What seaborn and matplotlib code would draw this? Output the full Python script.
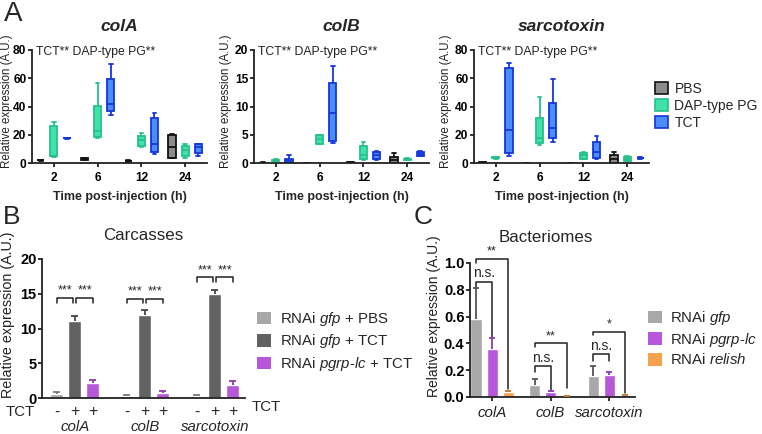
import numpy as np
import pandas as pd
import matplotlib
matplotlib.use("Agg")
import matplotlib.pyplot as plt
from matplotlib.patches import Patch
import seaborn as sns

sns.set_theme(style="ticks")
plt.rcParams['font.family'] = ['Liberation Sans', 'DejaVu Sans']
plt.rcParams['mathtext.fontset'] = 'custom'
plt.rcParams['mathtext.rm'] = 'Liberation Sans'
plt.rcParams['mathtext.it'] = 'Liberation Sans:italic'
plt.rcParams['mathtext.bf'] = 'Liberation Sans:bold'

# ---------------- Panel A data (five-number summaries: min, q1, median, q3, max) -------------
times = ["2", "6", "12", "24"]
treatments = ["PBS", "DAP-type PG", "TCT"]
genes_A = ["colA", "colB", "sarcotoxin"]
ymax_A = [80, 20, 80]
ystep_A = [20, 5, 20]

colA_PBS = [[1.5, 1.8, 2.0, 2.2, 2.4], [2.0, 2.4, 2.8, 3.2, 3.6], [0.8, 1.1, 1.4, 1.7, 2.0], [3.2, 3.5, 11.5, 20.0, 20.5]]
colA_DAP = [[4.0, 4.7, 5.2, 26.4, 28.7], [17.6, 18.1, 23.0, 40.5, 56.5], [11.1, 12.2, 16.0, 18.8, 21.2], [3.4, 5.3, 9.2, 12.0, 13.8]]
colA_TCT = [[17.2, 17.4, 17.6, 17.8, 18.0], [34.1, 36.5, 41.6, 59.3, 69.9], [6.6, 7.8, 13.6, 32.2, 35.1], [5.1, 6.9, 11.0, 13.1, 13.8]]

colB_PBS = [[0.0, 0.02, 0.05, 0.08, 0.1], [0.0, 0.02, 0.04, 0.06, 0.08], [0.0, 0.03, 0.06, 0.09, 0.12], [0.0, 0.06, 0.5, 1.05, 1.75]]
colB_DAP = [[0.3, 0.4, 0.5, 0.6, 0.7], [3.3, 3.4, 4.3, 4.9, 5.0], [0.5, 0.65, 1.5, 3.0, 3.7], [0.5, 0.6, 0.65, 0.7, 0.8]]
colB_TCT = [[0.0, 0.05, 0.3, 0.65, 1.35], [3.5, 3.9, 8.9, 14.2, 17.1], [0.5, 0.65, 1.35, 1.9, 2.1], [1.2, 1.3, 1.6, 2.0, 2.2]]

sarco_PBS = [[0.1, 0.2, 0.3, 0.4, 0.5], [0.05, 0.1, 0.2, 0.3, 0.35], [0.05, 0.1, 0.2, 0.3, 0.35], [0.0, 0.1, 3.0, 5.7, 7.6]]
sarco_DAP = [[3.0, 3.3, 3.7, 4.0, 4.2], [12.9, 14.5, 17.6, 31.9, 46.9], [2.6, 3.1, 5.5, 7.4, 7.9], [1.2, 1.7, 3.0, 4.3, 5.0]]
sarco_TCT = [[4.8, 6.9, 23.1, 67.0, 71.1], [15.2, 17.6, 24.5, 42.7, 59.6], [2.6, 3.6, 7.9, 15.0, 18.8], [3.0, 3.2, 3.5, 3.8, 4.0]]

summaries_A = {
    "colA": [colA_PBS, colA_DAP, colA_TCT],
    "colB": [colB_PBS, colB_DAP, colB_TCT],
    "sarcotoxin": [sarco_PBS, sarco_DAP, sarco_TCT],
}

# ---------------- Panel B data ----------------
genes = ["colA", "colB", "sarcotoxin"]
carc_groups = ["RNAi gfp + PBS", "RNAi gfp + TCT", "RNAi pgrp-lc + TCT"]
carc_gfp_pbs = [0.55, 0.3, 0.3]
carc_gfp_pbs_err = [0.25, 0.15, 0.15]
carc_gfp_tct = [11.1, 12.0, 14.9]
carc_gfp_tct_err = [0.7, 0.6, 0.7]
carc_pgrp_tct = [2.1, 0.65, 1.9]
carc_pgrp_tct_err = [0.45, 0.3, 0.5]
tct_signs = ["-", "+", "+"]

# ---------------- Panel C data ----------------
bact_groups = ["RNAi gfp", "RNAi pgrp-lc", "RNAi relish"]
bact_gfp = [0.585, 0.087, 0.155]
bact_gfp_err = [0.225, 0.05, 0.08]
bact_pgrp = [0.36, 0.04, 0.167]
bact_pgrp_err = [0.08, 0.007, 0.023]
bact_relish = [0.037, 0.003, 0.012]
bact_relish_err = [0.01, 0.002, 0.004]

# ---------------- Styles ----------------
fill_A = {"PBS": "#8C8C8C", "DAP-type PG": "#3FE3A9", "TCT": "#4A8DF6"}
edge_A = {"PBS": "#111111", "DAP-type PG": "#27C08A", "TCT": "#1436DC"}
carc_colors = {"RNAi gfp + PBS": "#A8A8A8", "RNAi gfp + TCT": "#626262", "RNAi pgrp-lc + TCT": "#B757D9"}
carc_err_colors = ["#7A7A7A", "#444444", "#8E3AAE"]
bact_colors = {"RNAi gfp": "#A8A8A8", "RNAi pgrp-lc": "#B757D9", "RNAi relish": "#F6A24C"}
bact_err_colors = ["#555555", "#8E3AAE", "#C0762C"]
spine_col = "#222222"

W, H = 762, 434
fig = plt.figure(figsize=(W / 100, H / 100), dpi=100)


def fax(left, right, top, bottom):
    return fig.add_axes([left / W, 1 - bottom / H, (right - left) / W, (bottom - top) / H])


def style_axes(ax, lw=1.3):
    for s in ["top", "right"]:
        ax.spines[s].set_visible(False)
    for s in ["left", "bottom"]:
        ax.spines[s].set_color(spine_col)
        ax.spines[s].set_linewidth(lw)
    ax.tick_params(colors=spine_col, width=lw, length=3)
    ax.tick_params(axis="y", pad=1)


# ---------------- Panel A ----------------
rows = []
for g in genes_A:
    for ti, t in enumerate(treatments):
        for hi, h in enumerate(times):
            for v in summaries_A[g][ti][hi]:
                rows.append({"gene": g, "treat": t, "time": h, "value": v})
dfA = pd.DataFrame(rows)

A_pos = [(32, 207), (254, 429), (474, 649)]
A_ylab_x = [-0.108, -0.128, -0.128]
for gi, g in enumerate(genes_A):
    ax = fax(A_pos[gi][0], A_pos[gi][1], 50, 163)
    for t in treatments:
        sub = dfA[(dfA.gene == g) & (dfA.treat == t)]
        sns.boxplot(data=sub, x="time", y="value", hue="treat", order=times,
                    hue_order=treatments, palette=fill_A, dodge=True, width=0.9,
                    gap=0.45, whis=(0, 100), showfliers=False, linecolor=edge_A[t],
                    linewidth=1.3, saturation=1, legend=False, ax=ax)
    ax.set_xlim(-0.5, 3.5)
    ax.set_ylim(0, ymax_A[gi])
    ax.set_yticks(np.arange(0, ymax_A[gi] + 0.1, ystep_A[gi]))
    style_axes(ax)
    for lab in ax.get_xticklabels() + ax.get_yticklabels():
        lab.set_fontweight("bold")
        lab.set_fontsize(8.6)
        lab.set_color("black")
    ax.set_xlabel("Time post-injection (h)", fontsize=9, fontweight="bold", labelpad=5)
    ax.set_ylabel("Relative expression (A.U.)", fontsize=8.3, color="#222222")
    ax.yaxis.set_label_coords(A_ylab_x[gi], 0.55)
    ax.text(0.5, 1.21, g, transform=ax.transAxes, ha="center", va="center",
            fontsize=12.5, fontweight="bold", fontstyle="italic")
    ax.text(0.025, 0.985, "TCT** DAP-type PG**", transform=ax.transAxes, ha="left",
            va="center", fontsize=8.8, color="#222222")

handles_A = [Patch(facecolor=fill_A[t], edgecolor=edge_A[t] if t != "PBS" else "#111111",
                   linewidth=1.2, label=t) for t in treatments]
fig.legend(handles=handles_A, loc="upper left", bbox_to_anchor=(655 / W, 1 - 82 / H),
           frameon=False, fontsize=10, handlelength=0.9, handleheight=0.9,
           handletextpad=0.5, labelspacing=0.2, borderpad=0, borderaxespad=0)

# ---------------- Panel B ----------------
dfB = pd.DataFrame({
    "gene": genes * 3,
    "group": [carc_groups[0]] * 3 + [carc_groups[1]] * 3 + [carc_groups[2]] * 3,
    "value": carc_gfp_pbs + carc_gfp_tct + carc_pgrp_tct,
})
errB = [carc_gfp_pbs_err, carc_gfp_tct_err, carc_pgrp_tct_err]
axB = fax(42, 245, 259, 398)
sns.barplot(data=dfB, x="gene", y="value", hue="group", order=genes, hue_order=carc_groups,
            palette=carc_colors, width=0.77, gap=0.28, errorbar=None, saturation=1,
            legend=False, ax=axB)
pB = sorted(axB.patches, key=lambda p: p.get_x() + p.get_width() / 2)
centersB = np.array([p.get_x() + p.get_width() / 2 for p in pB]).reshape(3, 3)
heightsB = np.array([p.get_height() for p in pB]).reshape(3, 3)
for gi in range(3):
    for hi in range(3):
        x, y, e = centersB[gi, hi], heightsB[gi, hi], errB[hi][gi]
        axB.vlines(x, y, y + e, color=carc_err_colors[hi], lw=1.3, zorder=3)
        axB.hlines(y + e, x - 0.05, x + 0.05, color=carc_err_colors[hi], lw=1.3, zorder=3)
axB.set_xlim(-0.47, 2.43)
axB.set_ylim(0, 20)
axB.set_yticks([0, 5, 10, 15, 20])
style_axes(axB)
axB.tick_params(axis="x", length=0)
axB.set_xticks([])
axB.set_xlabel("")
for lab in axB.get_yticklabels():
    lab.set_fontweight("bold")
    lab.set_fontsize(10.5)
    lab.set_color("black")
axB.set_ylabel("Relative expression (A.U.)", fontsize=10.3, color="#222222")
axB.yaxis.set_label_coords(-0.135, 0.6)
axB.set_title("Carcasses", fontsize=12.2, pad=14)
# signs and gene names
for gi in range(3):
    for hi in range(3):
        axB.text(centersB[gi, hi], -0.1, tct_signs[hi], transform=axB.get_xaxis_transform(),
                 ha="center", va="center", fontsize=11.5)
    axB.text(centersB[gi, 1], -0.21, genes[gi], transform=axB.get_xaxis_transform(),
             ha="center", va="center", fontsize=10.8, fontstyle="italic")
fig.text(20 / W, 1 - 412 / H, "TCT", ha="center", va="center", fontsize=10.8)
fig.text(266 / W, 1 - 407 / H, "TCT", ha="center", va="center", fontsize=10.8)
# significance brackets
bracket_yB = [14.4, 14.3, 17.4]
for gi in range(3):
    yb = bracket_yB[gi]
    for (a, b) in [(0, 1), (1, 2)]:
        x0 = centersB[gi, a] + (0.02 if a == 1 else 0.0)
        x1 = centersB[gi, b] - (0.03 if b == 1 else 0.0)
        axB.plot([x0, x0, x1, x1], [yb - 0.7, yb, yb, yb - 0.7], color="#222222", lw=1.1,
                 clip_on=False)
        axB.text((x0 + x1) / 2, yb + 0.15, "***", ha="center", va="bottom", fontsize=9)

handles_B = [Patch(facecolor=carc_colors[g], edgecolor="none") for g in carc_groups]
labels_B = [r"RNAi $\mathit{gfp}$ + PBS", r"RNAi $\mathit{gfp}$ + TCT",
            r"RNAi $\mathit{pgrp}$-$\mathit{lc}$ + TCT"]
fig.legend(handles=handles_B, labels=labels_B, loc="upper left",
           bbox_to_anchor=(257 / W, 1 - 310 / H), frameon=False, fontsize=10.8,
           handlelength=0.9, handleheight=0.9, handletextpad=0.6, labelspacing=0.3,
           borderpad=0, borderaxespad=0)

# ---------------- Panel C ----------------
dfC = pd.DataFrame({
    "gene": genes * 3,
    "group": [bact_groups[0]] * 3 + [bact_groups[1]] * 3 + [bact_groups[2]] * 3,
    "value": bact_gfp + bact_pgrp + bact_relish,
})
errC = [bact_gfp_err, bact_pgrp_err, bact_relish_err]
axC = fax(470, 635, 263, 397)
sns.barplot(data=dfC, x="gene", y="value", hue="group", order=genes, hue_order=bact_groups,
            palette=bact_colors, width=0.82, gap=0.31, errorbar=None, saturation=1,
            legend=False, ax=axC)
pC = sorted(axC.patches, key=lambda p: p.get_x() + p.get_width() / 2)
centersC = np.array([p.get_x() + p.get_width() / 2 for p in pC]).reshape(3, 3)
heightsC = np.array([p.get_height() for p in pC]).reshape(3, 3)
for gi in range(3):
    for hi in range(3):
        x, y, e = centersC[gi, hi], heightsC[gi, hi], errC[hi][gi]
        axC.vlines(x, y, y + e, color=bact_err_colors[hi], lw=1.3, zorder=3)
        axC.hlines(y + e, x - 0.05, x + 0.05, color=bact_err_colors[hi], lw=1.3, zorder=3)
axC.set_xlim(-0.376, 2.44)
axC.set_ylim(0, 1.0)
axC.set_yticks([0, 0.2, 0.4, 0.6, 0.8, 1.0])
axC.set_yticklabels([f"{v:.1f}" for v in [0, 0.2, 0.4, 0.6, 0.8, 1.0]])
style_axes(axC)
axC.set_xticks(centersC[:, 1])
axC.set_xticklabels(genes, fontstyle="italic", fontsize=10.8)
axC.set_xlabel("")
for lab in axC.get_yticklabels():
    lab.set_fontweight("bold")
    lab.set_fontsize(10.5)
    lab.set_color("black")
axC.set_ylabel("Relative expression (A.U.)", fontsize=10, color="#222222")
axC.yaxis.set_label_coords(-0.175, 0.6)
axC.text(0.46, 1.0 + 25 / 134, "Bacteriomes", transform=axC.transAxes, ha="center",
         va="center", fontsize=12.2)
# brackets: (gene, i, j, y, left leg end, right leg end, text)
bracketsC = [
    (0, 0, 2, 1.03, 1.00, 0.06, "**"),
    (0, 0, 1, 0.86, 0.82, 0.45, "n.s."),
    (1, 0, 2, 0.40, 0.37, 0.07, "**"),
    (1, 0, 1, 0.23, 0.19, 0.05, "n.s."),
    (2, 0, 2, 0.485, 0.46, 0.03, "*"),
    (2, 0, 1, 0.32, 0.27, 0.27, "n.s."),
]
for gi, a, b, yb, l0, l1, txt in bracketsC:
    x0, x1 = centersC[gi, a], centersC[gi, b]
    axC.plot([x0, x0, x1, x1], [l0, yb, yb, l1], color="#222222", lw=1.1, clip_on=False)
    axC.text((x0 + x1) / 2, yb + 0.01, txt, ha="center", va="bottom",
             fontsize=10 if txt == "n.s." else 9, clip_on=False)

handles_C = [Patch(facecolor=bact_colors[g], edgecolor="none") for g in bact_groups]
labels_C = [r"RNAi $\mathit{gfp}$", r"RNAi $\mathit{pgrp}$-$\mathit{lc}$",
            r"RNAi $\mathit{relish}$"]
fig.legend(handles=handles_C, labels=labels_C, loc="upper left",
           bbox_to_anchor=(648 / W, 1 - 309 / H), frameon=False, fontsize=10.8,
           handlelength=0.9, handleheight=0.9, handletextpad=0.6, labelspacing=0.25,
           borderpad=0, borderaxespad=0)

# ---------------- Panel letters ----------------
fig.text(4 / W, 1 - 1 / H, "A", ha="left", va="top", fontsize=20)
fig.text(3 / W, 1 - 205 / H, "B", ha="left", va="top", fontsize=19)
fig.text(414 / W, 1 - 205 / H, "C", ha="left", va="top", fontsize=19)

fig.savefig("out.png", dpi=100)
